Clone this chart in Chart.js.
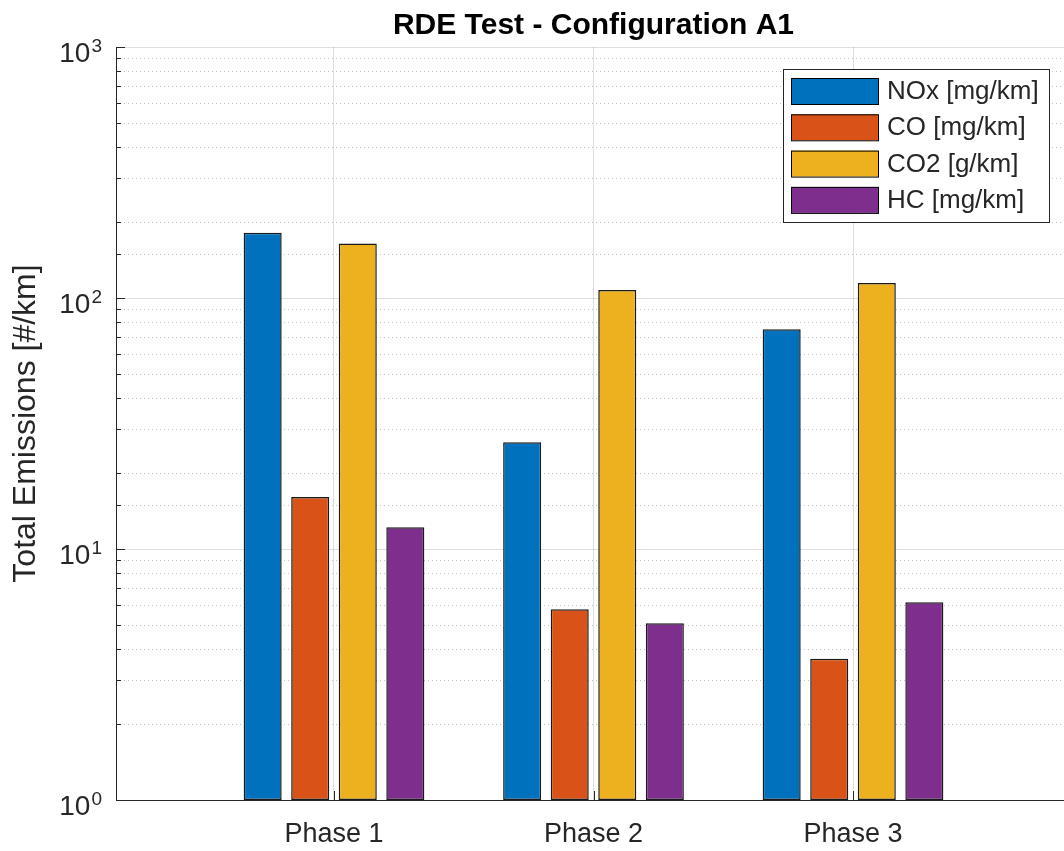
<!DOCTYPE html>
<html>
<head>
<meta charset="utf-8">
<script src="https://cdn.jsdelivr.net/npm/chart.js@4/dist/chart.umd.min.js"></script>
<style>
  html, body { margin: 0; padding: 0; background: #fff; overflow: hidden; }
  canvas { display: block; }
</style>
</head>
<body>
<canvas id="emissions_chart" width="1071" height="851"></canvas>
<script>
// data
var phases = ['Phase 1', 'Phase 2', 'Phase 3'];
var seriesNames = ['NOx [mg/km]', 'CO [mg/km]', 'CO2 [g/km]', 'HC [mg/km]'];
var noxValues = [182, 26.6, 75];
var coValues = [16.1, 5.75, 3.65];
var co2Values = [165, 107.6, 114.8];
var hcValues = [12.2, 5.06, 6.13];
var seriesColors = ['#0072BD', '#D95319', '#EDB120', '#7E2F8E'];

var textColor = '#262626';
var fontFamily = '"Liberation Sans", Arial, Helvetica, sans-serif';
Chart.defaults.font.family = fontFamily;
Chart.defaults.color = textColor;

function toPoints(values) {
    return values.map(function (v, i) { return {x: i + 1, y: v}; });
}

// minor dotted grid, inward ticks, 10^n labels and the legend box
var matlabAxes = {
    id: 'matlabAxes',
    beforeDatasetsDraw: function (chart) {
        var ctx = chart.ctx, a = chart.chartArea;
        var x = chart.scales.x, y = chart.scales.y;
        ctx.save();
        ctx.lineWidth = 1;
        ctx.strokeStyle = 'rgba(38,38,38,0.28)';
        ctx.setLineDash([1, 3]);
        y.ticks.forEach(function (t) {
            if (t.major) return;
            var py = Math.round(y.getPixelForValue(t.value)) + 0.5;
            ctx.beginPath();
            ctx.moveTo(a.left, py);
            ctx.lineTo(a.right, py);
            ctx.stroke();
        });
        ctx.setLineDash([]);
        ctx.strokeStyle = textColor;
        y.ticks.forEach(function (t) {
            var py = Math.round(y.getPixelForValue(t.value)) + 0.5;
            var len = t.major ? 9 : 5;
            ctx.beginPath();
            ctx.moveTo(a.left, py);
            ctx.lineTo(a.left + len, py);
            ctx.stroke();
        });
        x.ticks.forEach(function (t) {
            var px = Math.round(x.getPixelForValue(t.value)) + 0.5;
            ctx.beginPath();
            ctx.moveTo(px, a.bottom);
            ctx.lineTo(px, a.bottom - 9);
            ctx.stroke();
        });
        ctx.restore();
    },
    afterDraw: function (chart) {
        var ctx = chart.ctx, a = chart.chartArea;
        var y = chart.scales.y;
        ctx.save();
        ctx.fillStyle = textColor;
        ctx.textBaseline = 'alphabetic';
        ctx.textAlign = 'left';
        y.ticks.forEach(function (t) {
            if (!t.major) return;
            var py = y.getPixelForValue(t.value);
            var exp = String(Math.round(Math.log10(t.value)));
            ctx.font = '19px ' + fontFamily;
            var expW = ctx.measureText(exp).width;
            var right = a.left - 14;
            ctx.fillText(exp, right - expW, py + 5);
            ctx.font = '28px ' + fontFamily;
            var baseW = ctx.measureText('10').width;
            ctx.fillText('10', right - expW - baseW - 1, py + 14.5);
        });

        // legend
        var boxRight = a.right - 22, boxTop = a.top + 22;
        var boxLeft = boxRight - 266, boxH = 153;
        ctx.fillStyle = '#fff';
        ctx.fillRect(boxLeft, boxTop, boxRight - boxLeft, boxH);
        ctx.strokeStyle = textColor;
        ctx.lineWidth = 1;
        ctx.strokeRect(boxLeft + 0.5, boxTop + 0.5, boxRight - boxLeft, boxH);
        ctx.font = '26px ' + fontFamily;
        ctx.textBaseline = 'middle';
        chart.data.datasets.forEach(function (ds, i) {
            var top = boxTop + 9 + i * 36.3;
            ctx.fillStyle = ds.backgroundColor;
            ctx.fillRect(boxLeft + 8, top, 87, 26);
            ctx.strokeStyle = '#000';
            ctx.strokeRect(boxLeft + 8.5, top + 0.5, 87, 26);
            ctx.fillStyle = textColor;
            ctx.fillText(ds.label, boxLeft + 104, top + 14);
        });
        ctx.restore();
    }
};

var ctx = document.getElementById('emissions_chart').getContext('2d');
var myChart = new Chart(ctx, {
    type: 'bar',
    data: {
        datasets: [noxValues, coValues, co2Values, hcValues].map(function (vals, i) {
            return {
                label: seriesNames[i],
                data: toPoints(vals),
                backgroundColor: seriesColors[i],
                borderColor: '#1a1a1a',
                borderWidth: 1.5,
                borderSkipped: false,
                inflateAmount: 0,
                categoryPercentage: 0.733,
                barPercentage: 0.8
            };
        })
    },
    options: {
        responsive: false,
        animation: false,
        devicePixelRatio: 1,
        layout: {padding: 0},
        plugins: {
            legend: {display: false},
            tooltip: {enabled: false},
            title: {
                display: true,
                text: 'RDE Test - Configuration A1',
                fullSize: false,
                color: '#000',
                font: {size: 30, weight: 'bold', lineHeight: 1.2},
                padding: {top: 8, bottom: 3}
            }
        },
        scales: {
            x: {
                type: 'linear',
                min: 0.16,
                max: 3.84,
                offset: false,
                afterBuildTicks: function (axis) {
                    axis.ticks = phases.map(function (p, i) { return {value: i + 1}; });
                },
                afterFit: function (axis) { axis.height = 51; },
                ticks: {
                    autoSkip: false,
                    maxRotation: 0,
                    padding: 18,
                    color: textColor,
                    font: {size: 27},
                    callback: function (value) { return phases[value - 1]; }
                },
                grid: {
                    offset: false,
                    drawTicks: false,
                    color: 'rgba(38,38,38,0.15)'
                },
                border: {color: textColor, width: 1}
            },
            y: {
                type: 'logarithmic',
                min: 1,
                max: 1000,
                afterFit: function (axis) { axis.width = 116; },
                ticks: {display: false, autoSkip: false},
                grid: {
                    drawTicks: false,
                    color: function (c) {
                        return c.tick && c.tick.major ? 'rgba(38,38,38,0.15)' : 'rgba(0,0,0,0)';
                    }
                },
                border: {color: textColor, width: 1},
                title: {
                    display: true,
                    text: 'Total Emissions [#/km]',
                    color: textColor,
                    font: {size: 32, lineHeight: 1.2},
                    padding: {top: 7, bottom: 0}
                }
            }
        }
    },
    plugins: [matlabAxes]
});
</script>
</body>
</html>
